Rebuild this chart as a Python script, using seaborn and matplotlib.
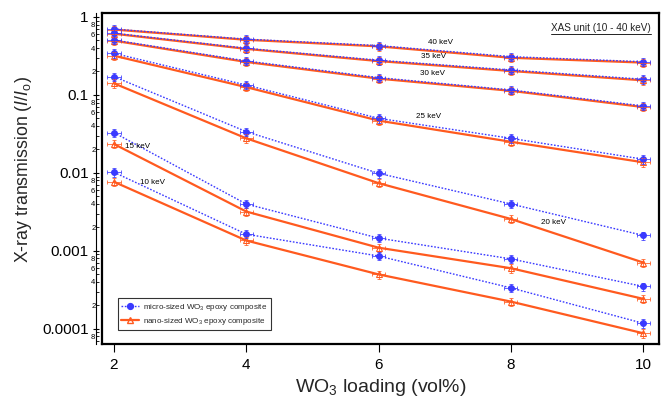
import numpy as np
import pandas as pd
import matplotlib
matplotlib.use("Agg")
import matplotlib.pyplot as plt
import matplotlib.ticker as mticker
from matplotlib.lines import Line2D
import seaborn as sns

# WO3 loading (vol%)
loading = [2, 4, 6, 8, 10]
energies_kev = [40, 35, 30, 25, 20, 15, 10]

# Transmission I/Io, micro-sized WO3 epoxy composite
micro_40 = [0.70, 0.52, 0.43, 0.31, 0.267]
micro_35 = [0.62, 0.397, 0.279, 0.209, 0.159]
micro_30 = [0.507, 0.273, 0.167, 0.116, 0.0723]
micro_25 = [0.342, 0.134, 0.0502, 0.0278, 0.0150]
micro_20 = [0.172, 0.0339, 0.0099, 0.0040, 0.00158]
micro_15 = [0.0329, 0.0040, 0.00146, 0.00079, 0.00035]
micro_10 = [0.0102, 0.00164, 0.00086, 0.000336, 0.000118]

# Transmission I/Io, nano-sized WO3 epoxy composite
nano_40 = [0.69, 0.51, 0.42, 0.30, 0.26]
nano_35 = [0.61, 0.39, 0.272, 0.203, 0.154]
nano_30 = [0.497, 0.265, 0.162, 0.113, 0.070]
nano_25 = [0.319, 0.126, 0.0469, 0.0251, 0.0137]
nano_20 = [0.141, 0.0278, 0.0074, 0.00257, 0.00071]
nano_15 = [0.0235, 0.0032, 0.0011, 0.0006, 0.000243]
nano_10 = [0.0077, 0.00136, 0.0005, 0.000224, 0.000088]

# measurement uncertainty
rel_err_t = 0.12
err_loading = 0.1

micro = {40: micro_40, 35: micro_35, 30: micro_30, 25: micro_25,
         20: micro_20, 15: micro_15, 10: micro_10}
nano = {40: nano_40, 35: nano_35, 30: nano_30, 25: nano_25,
        20: nano_20, 15: nano_15, 10: nano_10}

rows = []
for name, table in (("micro", micro), ("nano", nano)):
    for e in energies_kev:
        for x, t in zip(loading, table[e]):
            rows.append({"sample": name, "energy": e, "loading": x, "T": t})
df = pd.DataFrame(rows)

BLUE = "#3a3aff"
ORANGE = "#ff5a1f"

sns.set_theme(style="ticks")
plt.rcParams["font.family"] = ["Liberation Sans", "DejaVu Sans"]
plt.rcParams["mathtext.fontset"] = "custom"
plt.rcParams["mathtext.rm"] = "Liberation Sans"
plt.rcParams["mathtext.it"] = "Liberation Sans:italic"
plt.rcParams["mathtext.bf"] = "Liberation Sans:bold"

fig = plt.figure(figsize=(6.62, 4.03), dpi=100)
ax = fig.add_axes([102 / 662, 1 - 344 / 403, 557 / 662, 331 / 403])

styles = {
    "micro": dict(color=BLUE, linestyle=(0, (1.2, 1.2)), linewidth=1.0,
                  marker="o", markersize=4.2, markerfacecolor=BLUE,
                  markeredgecolor=BLUE),
    "nano": dict(color=ORANGE, linestyle="-", linewidth=1.6,
                 marker="^", markersize=4.0, markerfacecolor="none",
                 markeredgecolor=ORANGE, markeredgewidth=0.8),
}

for name in ("nano", "micro"):
    sub = df[df["sample"] == name]
    sns.lineplot(data=sub, x="loading", y="T", units="energy", estimator=None,
                 ax=ax, legend=False, **styles[name])
    col = styles[name]["color"]
    ax.errorbar(sub["loading"], sub["T"], yerr=sub["T"] * rel_err_t,
                xerr=err_loading, fmt="none", ecolor=col, elinewidth=0.7,
                capsize=1.6, capthick=0.7, alpha=0.8, zorder=3)

ax.set_yscale("log")
ax.set_xlim(1.82, 10.24)
ax.set_ylim(6.4e-5, 1.125)
ax.set_xticks(loading)
ax.xaxis.set_major_formatter(mticker.FuncFormatter(lambda v, p: f"{v:g}"))

major_labels = {0: "1", -1: "0.1", -2: "0.01", -3: "0.001", -4: "0.0001"}


def major_fmt(v, pos):
    k = int(round(np.log10(v)))
    return major_labels.get(k, "")


def minor_fmt(v, pos):
    m = int(round(v / 10 ** np.floor(np.log10(v) + 1e-9)))
    return str(m) if m in (2, 4, 6, 8) else ""


ax.yaxis.set_major_locator(mticker.LogLocator(base=10, numticks=10))
ax.yaxis.set_major_formatter(mticker.FuncFormatter(major_fmt))
ax.yaxis.set_minor_locator(mticker.LogLocator(base=10, subs=np.arange(2, 10), numticks=20))
ax.yaxis.set_minor_formatter(mticker.FuncFormatter(minor_fmt))

# plot frame plus a detached logarithmic y axis
for s in ("top", "right", "bottom"):
    ax.spines[s].set_linewidth(1.6)
    ax.spines[s].set_color("black")
ax.spines["left"].set_position(("outward", 4))
ax.spines["left"].set_linewidth(0.8)
ax.spines["left"].set_color("black")
ax.plot([0, 0], [0, 1], transform=ax.transAxes, color="black", lw=1.6,
        clip_on=False, solid_capstyle="projecting", zorder=5)

ax.tick_params(axis="y", which="major", direction="inout", length=5, width=0.8,
               labelsize=11, pad=3, colors="black")
ax.tick_params(axis="y", which="minor", direction="in", length=2, width=0.6,
               labelsize=5.5, pad=0.8, colors="black")
ax.tick_params(axis="x", which="major", direction="out", length=6, width=0.8,
               labelsize=11, pad=4, colors="black")
ax.tick_params(axis="x", which="minor", bottom=False)

ax.set_xlabel(r"WO$_3$ loading (vol%)", fontsize=14, labelpad=4)
ax.set_ylabel(r"X-ray transmission ($\mathit{I/I}_\mathregular{o}$)", fontsize=12.8)
ax.yaxis.set_label_coords(-0.122, 0.526)

# energy annotations
energy_labels = [
    ("40 keV", 6.94, 0.464), ("35 keV", 6.83, 0.307), ("30 keV", 6.82, 0.186),
    ("25 keV", 6.76, 0.0522), ("20 keV", 8.64, 0.00229),
    ("15 keV", 2.36, 0.0216), ("10 keV", 2.58, 0.00744),
]
for txt, x, y in energy_labels:
    ax.text(x, y, txt, fontsize=5.8, ha="center", va="center", color="black")

# underlined unit caption
cap = ax.text(0.985, 0.955, "XAS unit (10 - 40 keV)", transform=ax.transAxes,
              fontsize=7.2, ha="right", va="center", color="#222222")
fig.canvas.draw()
bb = cap.get_window_extent().transformed(fig.transFigure.inverted())
fig.add_artist(Line2D([bb.x0, bb.x1], [bb.y0 - 0.002, bb.y0 - 0.002],
                      transform=fig.transFigure, color="#222222", lw=0.7))

handles = [
    Line2D([], [], color=BLUE, linestyle=(0, (1.2, 1.2)), lw=1.0, marker="o",
           markersize=4.2, markerfacecolor=BLUE, markeredgecolor=BLUE),
    Line2D([], [], color=ORANGE, linestyle="-", lw=1.6, marker="^",
           markersize=4.0, markerfacecolor="none", markeredgecolor=ORANGE),
]
leg = ax.legend(handles,
                [r"micro-sized WO$_3$ epoxy composite",
                 r"nano-sized WO$_3$ epoxy composite"],
                loc="lower left", bbox_to_anchor=(0.029, 0.042), borderaxespad=0,
                fontsize=5.8, frameon=True, fancybox=False, handlelength=2.2,
                handletextpad=0.5, borderpad=0.4, labelspacing=0.4)
leg.get_frame().set_edgecolor("black")
leg.get_frame().set_linewidth(0.8)

fig.savefig("out.png", dpi=100)
